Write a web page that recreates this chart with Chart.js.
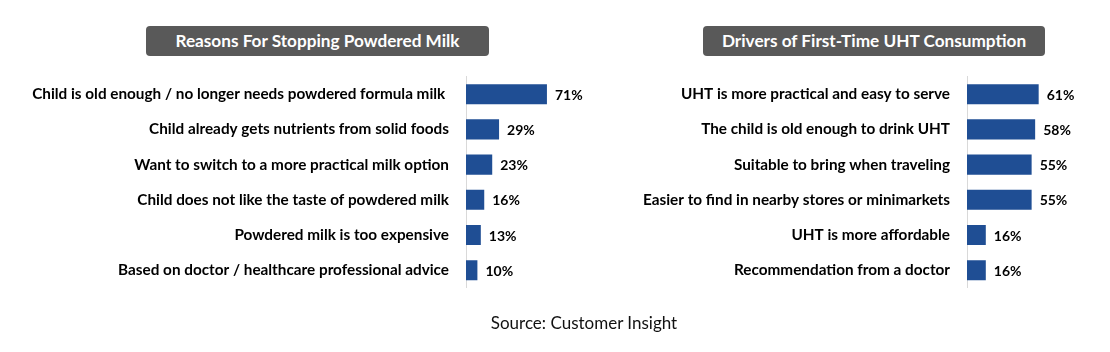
<!DOCTYPE html>
<html>
<head>
<meta charset="utf-8">
<script src="https://cdn.jsdelivr.net/npm/chart.js@4.4.1/dist/chart.umd.min.js"></script>
<style>
  html, body { margin:0; padding:0; background:#fff; }
  body { width:1110px; height:352px; position:relative; overflow:hidden; font-family: Lato, "Open Sans", sans-serif; }
  .title { position:absolute; top:26px; height:30px; line-height:30px; background:#595959; color:#fff; font-weight:700; font-size:17.2px; text-align:center; border-radius:4px; }
  .wrap { position:absolute; top:0; height:314px; }
  #source { position:absolute; top:312px; left:0; width:1168px; text-align:center; font-size:17px; color:#111; font-family: Lato, "Open Sans", sans-serif; }
</style>
</head>
<body>
<div class="title" style="left:146px;width:343px;">Reasons For Stopping Powdered Milk</div>
<div class="title" style="left:703px;width:342px;">Drivers of First-Time UHT Consumption</div>
<div class="wrap" style="left:0;width:600px;"><canvas id="c1" width="600" height="314"></canvas></div>
<div class="wrap" style="left:600px;width:510px;"><canvas id="c2" width="510" height="314"></canvas></div>
<div id="source">Source: Customer Insight</div>
<script>
const stopCategories = [
  "Child is old enough / no longer needs powdered formula milk ",
  "Child already gets nutrients from solid foods",
  "Want to switch to a more practical milk option",
  "Child does not like the taste of powdered milk",
  "Powdered milk is too expensive",
  "Based on doctor / healthcare professional advice"
];
const stopValues = [71, 29, 23, 16, 13, 10];

const uhtCategories = [
  "UHT is more practical and easy to serve",
  "The child is old enough to drink UHT",
  "Suitable to bring when traveling",
  "Easier to find in nearby stores or minimarkets",
  "UHT is more affordable",
  "Recommendation from a doctor"
];
const uhtValues = [61, 58, 55, 55, 16, 16];

const BAR_COLOR = '#1F4E94';
const LABEL_FONT = { family: 'Lato, "Open Sans", sans-serif', size: 15.3, weight: '700' };

const valueLabels = {
  id: 'valueLabels',
  afterDatasetsDraw(chart) {
    const ctx = chart.ctx;
    const meta = chart.getDatasetMeta(0);
    ctx.save();
    ctx.font = '700 14px Lato, "Open Sans", sans-serif';
    ctx.fillStyle = '#000';
    ctx.textAlign = 'left';
    ctx.textBaseline = 'middle';
    meta.data.forEach((bar, i) => {
      const v = chart.data.datasets[0].data[i];
      ctx.fillText(v + '%', bar.x + 8, bar.y + 1);
    });
    ctx.restore();
  }
};

function makeChart(id, labels, values, axisWidth, padRight) {
  return new Chart(document.getElementById(id), {
    type: 'bar',
    data: { labels: labels, datasets: [{ data: values, backgroundColor: BAR_COLOR, barPercentage: 0.57, categoryPercentage: 1.0 }] },
    options: {
      indexAxis: 'y',
      responsive: false,
      animation: false,
      layout: { padding: { top: 76.6, bottom: 11.4, left: 0, right: padRight } },
      plugins: { legend: { display: false }, tooltip: { enabled: false } },
      scales: {
        x: { display: false, min: 0, max: 100 },
        y: {
          grid: { display: false, drawTicks: false },
          border: { display: true, color: '#d9d9d9', width: 1 },
          ticks: { color: '#000', font: LABEL_FONT, padding: 17, autoSkip: false },
          afterFit(scale) { scale.width = axisWidth; }
        }
      }
    },
    plugins: [valueLabels]
  });
}

makeChart('c1', stopCategories, stopValues, 466, 20);
makeChart('c2', uhtCategories, uhtValues, 367, 25.5);
</script>
</body>
</html>
